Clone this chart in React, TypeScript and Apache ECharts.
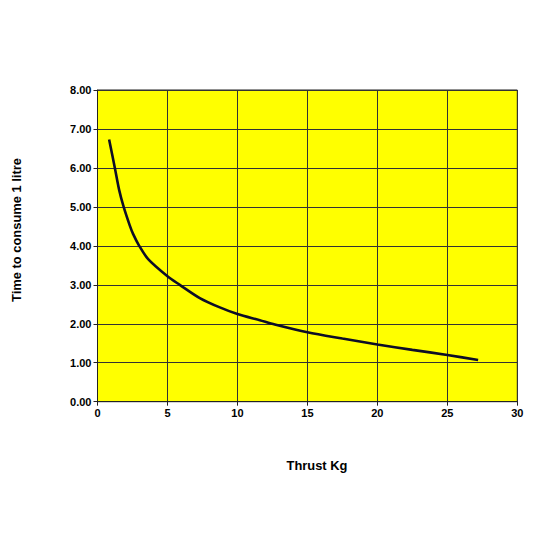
import React, { useEffect, useRef } from "react";
import * as echarts from "echarts";

const thrustKg = [0.83, 1.24, 1.55, 1.87, 2.31, 2.55, 2.95, 3.62, 5.0, 5.88, 7.31, 8.74, 10.0, 11.6, 12.67, 15.0, 17.5, 20.0, 22.5, 25.0, 27.2];
const timeToConsume = [6.73, 6.0, 5.43, 5.0, 4.52, 4.3, 4.02, 3.66, 3.22, 3.0, 2.66, 2.42, 2.25, 2.09, 1.98, 1.78, 1.62, 1.47, 1.33, 1.2, 1.07];

const xTicks = { min: 0, max: 30, interval: 5 };
const yTicks = { min: 0, max: 8, interval: 1 };
const xTitle = "Thrust Kg";
const yTitle = "Time to consume 1 litre";

export default function App() {
  const ref = useRef<HTMLDivElement>(null);
  useEffect(() => {
    if (!ref.current) return;
    const chart = echarts.init(ref.current, null, { renderer: "svg" });
    const font = "Liberation Sans, Arial, sans-serif";
    const titleStyle = { fontFamily: font, fontWeight: "bold", fontSize: 12.9, fill: "#000" };
    chart.setOption({
      animation: false,
      backgroundColor: "#ffffff",
      grid: {
        left: 97.5,
        right: 32.7,
        top: 90,
        bottom: 148.3,
        show: true,
        backgroundColor: "#FFFF00",
        borderColor: "#222222",
        borderWidth: 1,
      },
      graphic: [
        {
          type: "text",
          x: 317,
          y: 465,
          style: { ...titleStyle, text: xTitle, textAlign: "center", textVerticalAlign: "middle" },
        },
        {
          type: "text",
          x: 16.7,
          y: 230,
          rotation: Math.PI / 2,
          style: { ...titleStyle, text: yTitle, textAlign: "center", textVerticalAlign: "middle" },
        },
      ],
      xAxis: {
        type: "value",
        min: xTicks.min,
        max: xTicks.max,
        interval: xTicks.interval,
        axisLine: { show: true, lineStyle: { color: "#222", width: 1 } },
        axisTick: { show: true, length: 4, inside: false, lineStyle: { color: "#222" } },
        axisLabel: { fontFamily: font, fontWeight: "bold", fontSize: 11, color: "#000", margin: 6 },
        splitLine: { show: true, lineStyle: { color: "#333", width: 1 } },
      },
      yAxis: {
        type: "value",
        min: yTicks.min,
        max: yTicks.max,
        interval: yTicks.interval,
        axisLine: { show: true, lineStyle: { color: "#222", width: 1 } },
        axisTick: { show: true, length: 4, inside: false, lineStyle: { color: "#222" } },
        axisLabel: {
          fontFamily: font,
          fontWeight: "bold",
          fontSize: 11,
          color: "#000",
          margin: 6,
          formatter: (v: number) => v.toFixed(2),
        },
        splitLine: { show: true, lineStyle: { color: "#333", width: 1 } },
      },
      series: [
        {
          type: "line",
          data: thrustKg.map((x, i) => [x, timeToConsume[i]]),
          smooth: 0.3,
          showSymbol: false,
          symbol: "none",
          lineStyle: { color: "#0d0d26", width: 2.6 },
        },
      ],
    });
    return () => chart.dispose();
  }, []);
  return (
    <div
      ref={ref}
      style={{ position: "absolute", left: 0, top: 0, width: 550, height: 550 }}
    />
  );
}
